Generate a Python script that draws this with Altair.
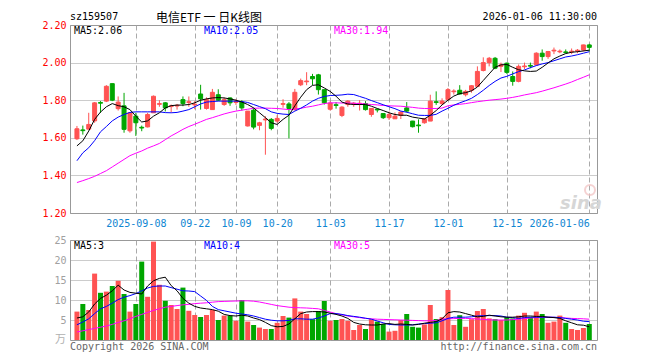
import altair as alt
import pandas as pd

# ---------------- data ----------------
opens = [1.595, 1.642, 1.646, 1.690, 1.788, 1.795, 1.888, 1.755, 1.770, 1.637,
         1.715, 1.656, 1.658, 1.733, 1.778, 1.786, 1.766, 1.769, 1.803, 1.788,
         1.775, 1.833, 1.756, 1.750, 1.829, 1.777, 1.812, 1.788, 1.790, 1.663,
         1.747, 1.666, 1.695, 1.698, 1.689, 1.778, 1.780, 1.750, 1.882, 1.898,
         1.926, 1.935, 1.856, 1.752, 1.776, 1.719, 1.777, 1.780, 1.780, 1.782,
         1.724, 1.752, 1.729, 1.707, 1.701, 1.719, 1.759, 1.689, 1.668, 1.680,
         1.689, 1.792, 1.782, 1.803, 1.845, 1.853, 1.829, 1.853, 1.874, 1.958,
         2.000, 2.023, 1.980, 1.997, 1.926, 1.900, 1.978, 1.985, 1.988, 2.050,
         2.032, 2.062, 2.057, 2.057, 2.057, 2.062, 2.067, 2.094]
closes = [1.648, 1.638, 1.671, 1.786, 1.784, 1.874, 1.800, 1.790, 1.645, 1.733,
          1.680, 1.652, 1.724, 1.821, 1.782, 1.759, 1.770, 1.773, 1.782, 1.792,
          1.779, 1.807, 1.803, 1.842, 1.800, 1.803, 1.786, 1.792, 1.759, 1.742,
          1.657, 1.680, 1.700, 1.650, 1.703, 1.782, 1.756, 1.842, 1.904, 1.902,
          1.914, 1.856, 1.786, 1.785, 1.772, 1.763, 1.795, 1.784, 1.784, 1.750,
          1.756, 1.748, 1.707, 1.724, 1.715, 1.737, 1.742, 1.659, 1.664, 1.701,
          1.795, 1.788, 1.795, 1.856, 1.849, 1.833, 1.847, 1.877, 1.953, 2.000,
          2.023, 1.970, 1.988, 1.948, 1.900, 1.980, 1.982, 1.981, 2.050, 2.032,
          2.059, 2.066, 2.061, 2.053, 2.061, 2.066, 2.094, 2.081]
highs = [1.663, 1.665, 1.733, 1.790, 1.795, 1.880, 1.888, 1.820, 1.839, 1.733,
         1.733, 1.665, 1.733, 1.825, 1.800, 1.790, 1.777, 1.780, 1.820, 1.820,
         1.795, 1.882, 1.815, 1.860, 1.858, 1.815, 1.815, 1.805, 1.800, 1.742,
         1.760, 1.685, 1.715, 1.705, 1.720, 1.805, 1.790, 1.860, 1.915, 1.949,
         1.940, 1.940, 1.856, 1.795, 1.790, 1.768, 1.800, 1.790, 1.800, 1.795,
         1.758, 1.755, 1.730, 1.740, 1.735, 1.740, 1.790, 1.690, 1.698, 1.705,
         1.829, 1.847, 1.810, 1.865, 1.858, 1.880, 1.855, 1.880, 1.980, 2.028,
         2.030, 2.030, 2.000, 2.000, 1.953, 1.990, 2.000, 2.000, 2.055, 2.070,
         2.062, 2.080, 2.070, 2.070, 2.075, 2.072, 2.095, 2.100]
lows = [1.588, 1.617, 1.645, 1.680, 1.733, 1.790, 1.795, 1.745, 1.627, 1.627,
        1.610, 1.635, 1.655, 1.733, 1.765, 1.740, 1.735, 1.750, 1.768, 1.765,
        1.752, 1.750, 1.750, 1.750, 1.795, 1.770, 1.770, 1.775, 1.745, 1.660,
        1.645, 1.640, 1.510, 1.640, 1.680, 1.760, 1.597, 1.745, 1.875, 1.880,
        1.880, 1.830, 1.777, 1.745, 1.755, 1.710, 1.765, 1.765, 1.745, 1.745,
        1.712, 1.735, 1.700, 1.695, 1.700, 1.700, 1.735, 1.655, 1.627, 1.675,
        1.689, 1.775, 1.775, 1.800, 1.830, 1.830, 1.820, 1.840, 1.870, 1.953,
        1.980, 1.965, 1.950, 1.940, 1.877, 1.895, 1.965, 1.970, 1.985, 2.010,
        2.020, 2.045, 2.050, 2.050, 2.045, 2.050, 2.060, 2.060]
volumes = [7.1, 9.0, 7.5, 16.6, 11.8, 12.1, 13.5, 14.8, 11.5, 7.1,
           9.0, 19.6, 10.8, 24.6, 13.8, 9.8, 8.75, 7.75, 13.1, 7.3,
           6.25, 5.75, 6.25, 7.5, 5.0, 6.1, 6.1, 4.8, 10.0, 4.6,
           3.75, 3.1, 2.75, 2.75, 4.3, 6.0, 5.6, 10.4, 7.1, 6.5,
           5.2, 7.25, 9.75, 4.8, 5.0, 5.25, 4.8, 2.5, 3.75, 2.75,
           5.2, 4.6, 4.0, 2.1, 2.3, 5.0, 6.5, 3.3, 3.1, 3.9,
           8.75, 5.25, 5.7, 12.5, 3.75, 6.2, 3.3, 5.2, 7.25, 7.75,
           5.4, 5.2, 5.0, 5.7, 5.4, 6.1, 6.8, 5.7, 7.1, 6.5,
           4.3, 4.6, 6.1, 4.3, 2.75, 2.5, 3.0, 4.0]
ma5 = [1.557, 1.584, 1.636, 1.698, 1.737, 1.765, 1.782, 1.771, 1.765, 1.750,
       1.715, 1.684, 1.690, 1.715, 1.733, 1.759, 1.771, 1.774, 1.774, 1.777,
       1.786, 1.800, 1.807, 1.812, 1.814, 1.812, 1.807, 1.800, 1.790, 1.777,
       1.759, 1.733, 1.707, 1.680, 1.671, 1.698, 1.720, 1.770, 1.816, 1.856,
       1.879, 1.882, 1.865, 1.847, 1.821, 1.790, 1.780, 1.777, 1.777, 1.777,
       1.768, 1.756, 1.745, 1.733, 1.724, 1.720, 1.720, 1.710, 1.705, 1.700,
       1.720, 1.745, 1.775, 1.800, 1.822, 1.835, 1.840, 1.850, 1.870, 1.905,
       1.940, 1.975, 1.988, 1.990, 1.975, 1.962, 1.956, 1.953, 1.955, 1.975,
       1.998, 2.020, 2.035, 2.048, 2.055, 2.058, 2.062, 2.066]
ma10 = [1.478, 1.520, 1.547, 1.585, 1.632, 1.660, 1.690, 1.710, 1.724, 1.735,
        1.738, 1.738, 1.738, 1.738, 1.738, 1.734, 1.733, 1.735, 1.742, 1.750,
        1.765, 1.780, 1.790, 1.793, 1.795, 1.795, 1.795, 1.795, 1.793, 1.788,
        1.777, 1.766, 1.755, 1.738, 1.730, 1.726, 1.724, 1.742, 1.757, 1.775,
        1.795, 1.810, 1.820, 1.825, 1.826, 1.828, 1.832, 1.830, 1.820, 1.810,
        1.798, 1.787, 1.776, 1.765, 1.755, 1.742, 1.736, 1.728, 1.720, 1.719,
        1.719, 1.725, 1.742, 1.757, 1.773, 1.786, 1.797, 1.810, 1.830, 1.853,
        1.878, 1.900, 1.918, 1.927, 1.940, 1.952, 1.961, 1.973, 1.984, 1.993,
        2.000, 2.010, 2.020, 2.030, 2.035, 2.042, 2.050, 2.058]
ma30 = [1.362, 1.372, 1.383, 1.395, 1.410, 1.425, 1.445, 1.465, 1.485, 1.505,
        1.518, 1.530, 1.545, 1.557, 1.570, 1.590, 1.610, 1.627, 1.645, 1.660,
        1.672, 1.685, 1.698, 1.707, 1.717, 1.727, 1.735, 1.742, 1.747, 1.752,
        1.757, 1.758, 1.758, 1.757, 1.756, 1.753, 1.750, 1.753, 1.757, 1.763,
        1.768, 1.775, 1.782, 1.786, 1.786, 1.785, 1.785, 1.784, 1.782, 1.780,
        1.777, 1.775, 1.772, 1.770, 1.769, 1.768, 1.765, 1.762, 1.758, 1.756,
        1.756, 1.756, 1.758, 1.770, 1.775, 1.778, 1.782, 1.787, 1.792, 1.796,
        1.800, 1.803, 1.806, 1.810, 1.815, 1.821, 1.828, 1.834, 1.840, 1.848,
        1.857, 1.866, 1.876, 1.886, 1.897, 1.910, 1.922, 1.935]
vma5 = [5.5, 5.8, 7.0, 9.0, 10.4, 11.2, 12.3, 13.7, 12.5, 11.9,
        11.7, 11.5, 13.5, 14.8, 15.4, 15.7, 13.6, 12.3, 10.4, 9.2,
        8.4, 8.0, 7.8, 7.6, 7.2, 6.4, 6.1, 6.0, 6.2, 6.0,
        5.5, 5.1, 4.4, 3.6, 3.3, 3.4, 4.0, 5.3, 6.6, 7.0,
        7.1, 7.1, 7.0, 6.7, 6.4, 6.0, 5.4, 4.4, 4.0, 3.8,
        3.75, 3.75, 4.0, 4.1, 3.9, 4.0, 3.9, 3.75, 3.9, 4.2,
        4.4, 4.6, 5.3, 6.8, 7.1, 7.0, 6.6, 6.2, 5.8, 5.9,
        6.2, 6.0, 5.8, 5.7, 5.7, 5.8, 6.0, 6.0, 5.9, 5.9,
        5.7, 5.6, 5.4, 4.8, 4.3, 3.8, 3.7, 3.3]
vma10 = [3.8, 4.5, 5.3, 6.6, 7.8, 8.4, 9.2, 10.1, 10.7, 11.1,
         11.6, 12.3, 13.0, 13.4, 13.5, 13.5, 13.1, 12.7, 12.3, 12.25,
         12.1, 11.0, 9.9, 8.4, 7.6, 7.3, 7.0, 6.7, 6.5, 6.3,
         6.0, 5.6, 5.2, 4.95, 4.8, 4.8, 4.9, 5.3, 5.3, 5.2,
         5.2, 5.5, 6.0, 6.6, 6.6, 6.4, 6.1, 5.9, 5.7, 5.45,
         5.2, 4.75, 4.3, 3.9, 3.8, 3.75, 3.75, 3.8, 4.0, 4.1,
         4.2, 4.3, 4.8, 5.4, 5.7, 5.7, 5.7, 5.8, 6.0, 6.1,
         6.1, 6.1, 6.0, 5.7, 5.6, 5.4, 5.6, 5.7, 5.7, 5.7,
         5.7, 5.7, 5.6, 5.4, 5.2, 5.0, 4.7, 4.6]
vma30 = [2.0, 2.3, 2.6, 2.9, 3.2, 3.5, 3.9, 4.4, 4.8, 5.3,
         5.9, 6.4, 6.9, 7.4, 7.8, 8.2, 8.4, 8.6, 8.8, 8.9,
         9.1, 9.2, 9.3, 9.45, 9.6, 9.65, 9.7, 9.75, 9.8, 9.8,
         9.7, 9.5, 9.2, 8.9, 8.6, 8.4, 8.2, 8.1, 8.05, 8.0,
         7.9, 7.8, 7.4, 7.0, 6.6, 6.3, 6.0, 5.8, 5.6, 5.4,
         5.3, 5.2, 5.15, 5.1, 5.05, 5.0, 4.95, 4.9, 4.85, 4.8,
         4.8, 4.9, 5.2, 5.3, 5.35, 5.4, 5.4, 5.35, 5.25, 5.15,
         5.05, 5.0, 5.0, 5.0, 5.1, 5.2, 5.35, 5.5, 5.65, 5.7,
         5.7, 5.65, 5.6, 5.5, 5.4, 5.35, 5.3, 5.2]

tick_idx = [10, 20, 27, 34, 43, 53, 63, 73, 87]
tick_labels = ["2025-09-08", "09-22", "10-09", "10-20", "11-03",
               "11-17", "12-01", "12-15", "2026-01-06"]
price_ticks = [1.2, 1.4, 1.6, 1.8, 2.0, 2.2]
vol_ticks = [5, 10, 15, 20, 25]
price_legends = ["MA5:2.06", "MA10:2.05", "MA30:1.94"]
vol_legends = ["MA5:3", "MA10:4", "MA30:5"]
code_text = "sz159507"
title_text = "电信ETF 一 日K线图"
time_text = "2026-01-06 11:30:00"
copyright_text = "Copyright 2026 SINA.COM"
url_text = "http://finance.sina.com.cn"
unit_text = "万"

# ---------------- build ----------------
n = len(opens)
df = pd.DataFrame({
    "i": list(range(n)), "open": opens, "close": closes, "high": highs,
    "low": lows, "vol": volumes, "ma5": ma5, "ma10": ma10, "ma30": ma30,
    "vma5": vma5, "vma10": vma10, "vma30": vma30,
})
df["dir"] = ["up" if c >= o else "down" for o, c in zip(opens, closes)]

RED, GREEN = "#ff5353", "#00a600"
MONO = "DejaVu Sans Mono"
CJK = "Noto Sans CJK SC"
W, H1, H2 = 527, 188, 100
MA_COLORS = ["#000000", "#0000ff", "#ff00ff"]
LEG_X = [4, 134, 264]

label_expr = "".join(f"datum.value == {i} ? '{l}' : " for i, l in zip(tick_idx, tick_labels)) + "''"
xscale = alt.Scale(domain=[-0.33, 87.46], nice=False, zero=False)
dir_scale = alt.Scale(domain=["up", "down"], range=[RED, GREEN])

x_axis_price = alt.Axis(
    values=tick_idx, labelExpr=label_expr, grid=True, gridDash=[5, 3],
    gridColor="#aaaaaa", domain=False, ticks=False, labelColor="#0f86d2",
    labelFont=MONO, labelFontSize=10, labelPadding=5, labelOverlap=False,
    labelAlign={"condition": {"test": f"datum.value == {tick_idx[-1]}", "value": "right"},
                "value": "center"},
)
x_axis_vol = alt.Axis(values=tick_idx, labels=False, grid=True, gridDash=[5, 3],
                      gridColor="#aaaaaa", domain=False, ticks=False)

def X(axis):
    return alt.X("i:Q", scale=xscale, title=None, axis=axis)

py_scale = alt.Scale(domain=[1.2, 2.2], nice=False, zero=False)
py_axis = alt.Axis(values=price_ticks, format=".2f", grid=True, gridDash=[1, 1], gridColor="#999999",
                   domain=False, ticks=False, labelColor="#ff0000", labelFont=MONO,
                   labelFontSize=10, labelPadding=4)
vy_scale = alt.Scale(domain=[0, 25], nice=False, zero=True)
vy_axis = alt.Axis(values=vol_ticks, grid=True, gridDash=[1, 1], gridColor="#999999",
                   domain=False, ticks=False, labelColor="#a0a0a0", labelFont=MONO,
                   labelFontSize=10, labelPadding=4)

def PY(field):
    return alt.Y(f"{field}:Q", scale=py_scale, title=None, axis=py_axis)

def VY(field):
    return alt.Y(f"{field}:Q", scale=vy_scale, title=None, axis=vy_axis)

def txt(s, x, y, align="left", color="#000000", font=MONO, size=10, **kw):
    return alt.Chart(pd.DataFrame({"t": [s]})).mark_text(
        align=align, baseline="middle", font=font, fontSize=size, color=color, **kw
    ).encode(text="t:N", x=alt.value(x), y=alt.value(y))

base = alt.Chart(df)
color = alt.Color("dir:N", scale=dir_scale, legend=None)
stroke = alt.Stroke("dir:N", scale=dir_scale, legend=None)

wicks = base.mark_rule(strokeWidth=1).encode(x=X(x_axis_price), y=PY("low"), y2="high:Q", color=color)
bodies = base.mark_bar(size=4, strokeWidth=1).encode(
    x=X(x_axis_price), y=PY("open"), y2="close:Q", color=color, stroke=stroke)
price_lines = [base.mark_line(color=c, strokeWidth=1).encode(x=X(x_axis_price), y=PY(f))
               for f, c in zip(["ma30", "ma10", "ma5"], MA_COLORS[::-1])]

logo = alt.Chart(pd.DataFrame({"a": [0]})).mark_point(
    shape="circle", filled=False, stroke="#f2c0c0", strokeWidth=2, size=100
).encode(x=alt.value(520), y=alt.value(165))
logo_text = txt("sina", 511, 179, align="center", color="#d6d6d6", font="DejaVu Sans",
                size=18, fontStyle="italic", fontWeight="bold")

price_texts = [txt(s, x, 6, color=c) for s, x, c in zip(price_legends, LEG_X, MA_COLORS)]
price_texts += [
    txt(code_text, 0, -8),
    txt(title_text, 139, -7, align="center", font=CJK, size=12),
    txt(time_text, W, -8, align="right"),
]

price = alt.layer(logo, logo_text, wicks, bodies, *price_lines, *price_texts).properties(width=W, height=H1)

vbars = base.mark_bar(size=5).encode(x=X(x_axis_vol), y=VY("vol"), y2=alt.datum(0), color=color)
vol_lines = [base.mark_line(color=c, strokeWidth=1).encode(x=X(x_axis_vol), y=VY(f))
             for f, c in zip(["vma30", "vma10", "vma5"], MA_COLORS[::-1])]
vol_texts = [txt(s, x, 6, color=c) for s, x, c in zip(vol_legends, LEG_X, MA_COLORS)]
vol_texts += [
    txt(copyright_text, 0, 107, color="#666666"),
    txt(url_text, W, 107, align="right", color="#666666"),
    txt(unit_text, -4, 100, align="right", color="#b0b0b0", font=CJK, size=11),
]
volume = alt.layer(vbars, *vol_lines, *vol_texts).properties(width=W, height=H2)

chart = alt.vconcat(price, volume, spacing=5).properties(
    padding={"left": 33, "top": 3, "right": 5, "bottom": 2}
).configure_view(stroke="#999999", strokeWidth=1)

chart.save("out.html", embed_options={"renderer": "svg", "actions": False})
